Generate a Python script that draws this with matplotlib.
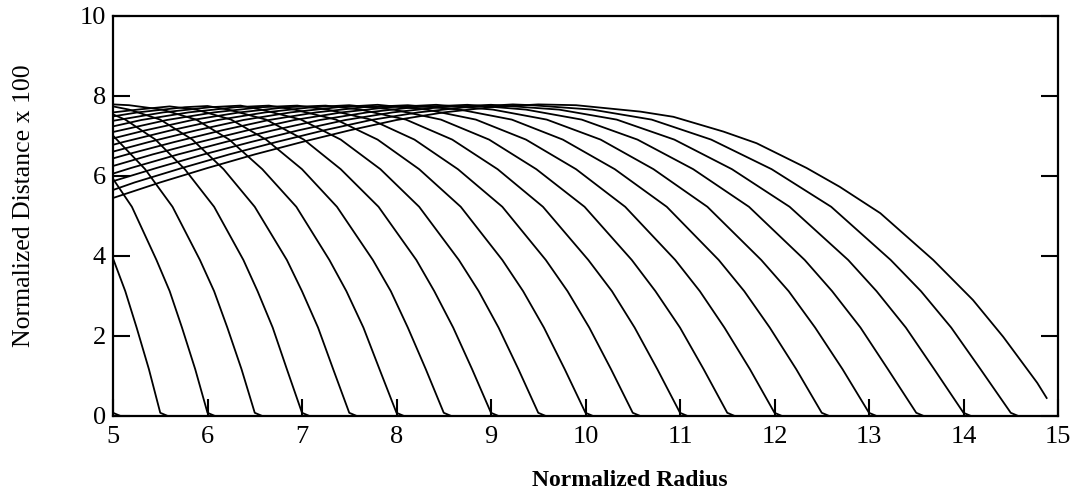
import matplotlib
matplotlib.use("Agg")
import matplotlib.pyplot as plt

# ---- data: (x, y) points of each curve ----
x00 = [5.0, 5.08, 14.88]
y00 = [0.08, 0.0, 0.0]
x01 = [5.0, 5.13, 5.25, 5.38, 5.5, 5.58, 14.88]
y01 = [3.94, 3.12, 2.21, 1.17, 0.08, 0.0, 0.0]
x02 = [5.0, 5.2, 5.46, 5.6, 5.73, 5.87, 6.0, 6.08, 14.88]
y02 = [5.93, 5.23, 3.9, 3.12, 2.21, 1.17, 0.08, 0.0, 0.0]
x03 = [5.0, 5.34, 5.63, 5.92, 6.07, 6.21, 6.36, 6.5, 6.58, 14.88]
y03 = [7.01, 6.17, 5.23, 3.9, 3.12, 2.21, 1.17, 0.08, 0.0, 0.0]
x04 = [5.0, 5.13, 5.45, 5.76, 6.07, 6.38, 6.53, 6.69, 6.84, 7.0, 7.08, 14.88]
y04 = [7.54, 7.41, 6.91, 6.17, 5.23, 3.9, 3.12, 2.21, 1.17, 0.08, 0.0, 0.0]
x05 = [5.0, 5.17, 5.5, 5.84, 6.17, 6.5, 6.84, 7.0, 7.17, 7.33, 7.5, 7.58, 14.88]
y05 = [7.74, 7.66, 7.41, 6.91, 6.17, 5.23, 3.9, 3.12, 2.21, 1.17, 0.08, 0.0, 0.0]
x06 = [5.0, 5.17, 5.52, 5.88, 6.23, 6.58, 6.94, 7.29, 7.47, 7.65, 7.82, 8.0, 8.08, 14.88]
y06 = [7.79, 7.77, 7.66, 7.41, 6.91, 6.17, 5.23, 3.9, 3.12, 2.21, 1.17, 0.08, 0.0, 0.0]
x07 = [5.0, 5.3, 5.6, 5.88, 6.25, 6.62, 7.0, 7.37, 7.75, 7.94, 8.12, 8.31, 8.5, 8.58, 14.88]
y07 = [7.59, 7.67, 7.74, 7.66, 7.41, 6.91, 6.17, 5.23, 3.9, 3.12, 2.21, 1.17, 0.08, 0.0, 0.0]
x08 = [5.0, 5.26, 5.76, 6.0, 6.22, 6.62, 7.02, 7.41, 7.81, 8.21, 8.4, 8.6, 8.8, 9.0, 9.08, 14.88]
y08 = [7.49, 7.59, 7.72, 7.75, 7.66, 7.41, 6.91, 6.17, 5.23, 3.9, 3.12, 2.21, 1.17, 0.08, 0.0, 0.0]
x09 = [5.0, 5.53, 6.03, 6.35, 6.57, 6.99, 7.41, 7.83, 8.24, 8.66, 8.87, 9.08, 9.29, 9.5, 9.58, 14.88]
y09 = [7.38, 7.59, 7.72, 7.76, 7.66, 7.41, 6.91, 6.17, 5.23, 3.9, 3.12, 2.21, 1.17, 0.08, 0.0, 0.0]
x10 = [5.0, 5.3, 5.8, 6.3, 6.65, 6.92, 7.36, 7.8, 8.24, 8.68, 9.12, 9.34, 9.56, 9.78, 10.0, 10.08, 14.88]
y10 = [7.24, 7.4, 7.59, 7.72, 7.76, 7.66, 7.41, 6.91, 6.17, 5.23, 3.9, 3.12, 2.21, 1.17, 0.08, 0.0, 0.0]
x11 = [5.0, 5.57, 6.07, 6.57, 6.95, 7.27, 7.73, 8.19, 8.65, 9.12, 9.58, 9.81, 10.04, 10.27, 10.5, 10.58, 14.88]
y11 = [7.1, 7.4, 7.59, 7.72, 7.76, 7.66, 7.41, 6.91, 6.17, 5.23, 3.9, 3.12, 2.21, 1.17, 0.08, 0.0, 0.0]
x12 = [5.0, 5.34, 5.84, 6.34, 6.84, 7.25, 7.62, 8.1, 8.59, 9.07, 9.55, 10.03, 10.28, 10.52, 10.76, 11.0, 11.08, 14.88]
y12 = [6.94, 7.14, 7.4, 7.59, 7.72, 7.76, 7.66, 7.41, 6.91, 6.17, 5.23, 3.9, 3.12, 2.21, 1.17, 0.08, 0.0, 0.0]
x13 = [5.0, 5.11, 5.61, 6.11, 6.61, 7.11, 7.5, 7.97, 8.47, 8.98, 9.48, 9.99, 10.49, 10.74, 11.0, 11.25, 11.5, 11.58, 14.88]
y13 = [6.78, 6.85, 7.14, 7.4, 7.59, 7.72, 7.77, 7.66, 7.41, 6.91, 6.17, 5.23, 3.9, 3.12, 2.21, 1.17, 0.08, 0.0, 0.0]
x14 = [5.0, 5.38, 5.88, 6.38, 6.88, 7.38, 7.8, 8.32, 8.84, 9.37, 9.9, 10.42, 10.95, 11.21, 11.47, 11.74, 12.0, 12.08, 14.88]
y14 = [6.61, 6.85, 7.14, 7.4, 7.59, 7.72, 7.78, 7.66, 7.41, 6.91, 6.17, 5.23, 3.9, 3.12, 2.21, 1.17, 0.08, 0.0, 0.0]
x15 = [5.0, 5.15, 5.65, 6.15, 6.65, 7.15, 7.65, 8.12, 8.67, 9.22, 9.76, 10.31, 10.86, 11.41, 11.68, 11.95, 12.23, 12.5, 12.58, 14.88]
y15 = [6.44, 6.54, 6.85, 7.14, 7.4, 7.59, 7.72, 7.77, 7.66, 7.41, 6.91, 6.17, 5.23, 3.9, 3.12, 2.21, 1.17, 0.08, 0.0, 0.0]
x16 = [5.0, 5.42, 5.92, 6.42, 6.92, 7.42, 7.92, 8.42, 9.02, 9.59, 10.16, 10.72, 11.29, 11.86, 12.15, 12.43, 12.72, 13.0, 13.08, 14.88]
y16 = [6.25, 6.54, 6.85, 7.14, 7.4, 7.59, 7.72, 7.78, 7.66, 7.41, 6.91, 6.17, 5.23, 3.9, 3.12, 2.21, 1.17, 0.08, 0.0, 0.0]
x17 = [5.0, 5.19, 5.69, 6.19, 6.69, 7.19, 7.69, 8.19, 8.75, 9.37, 9.96, 10.55, 11.14, 11.73, 12.32, 12.61, 12.91, 13.2, 13.5, 13.58, 14.88]
y17 = [6.06, 6.2, 6.54, 6.85, 7.14, 7.4, 7.59, 7.72, 7.78, 7.66, 7.41, 6.91, 6.17, 5.23, 3.9, 3.12, 2.21, 1.17, 0.08, 0.0, 0.0]
x18 = [5.0, 5.46, 5.96, 6.46, 6.96, 7.46, 7.96, 8.46, 9.0, 9.72, 10.33, 10.94, 11.55, 12.16, 12.78, 13.08, 13.39, 13.69, 14.0, 14.08, 14.88]
y18 = [5.87, 6.2, 6.54, 6.85, 7.14, 7.4, 7.59, 7.72, 7.78, 7.66, 7.41, 6.91, 6.17, 5.23, 3.9, 3.12, 2.21, 1.17, 0.08, 0.0, 0.0]
x19 = [5.0, 5.23, 5.73, 6.23, 6.73, 7.23, 7.73, 8.23, 8.73, 9.23, 9.43, 10.07, 10.7, 11.33, 11.97, 12.6, 13.23, 13.55, 13.87, 14.18, 14.5, 14.58, 14.88]
y19 = [5.65, 5.84, 6.2, 6.54, 6.85, 7.14, 7.4, 7.59, 7.72, 7.79, 7.77, 7.66, 7.41, 6.91, 6.17, 5.23, 3.9, 3.12, 2.21, 1.17, 0.08, 0.0, 0.0]
x20 = [5.0, 5.5, 6.0, 6.5, 7.0, 7.5, 8.0, 8.5, 9.0, 9.5, 9.9, 10.58, 10.93, 11.46, 11.81, 12.34, 12.69, 13.12, 13.68, 14.1, 14.42, 14.78, 14.88]
y20 = [5.45, 5.84, 6.2, 6.54, 6.85, 7.14, 7.4, 7.59, 7.72, 7.79, 7.77, 7.61, 7.48, 7.11, 6.82, 6.2, 5.73, 5.07, 3.9, 2.9, 1.98, 0.83, 0.45]

x_ticks = [5, 6, 7, 8, 9, 10, 11, 12, 13, 14, 15]
y_ticks = [0, 2, 4, 6, 8, 10]
x_label = "Normalized Radius"
y_label = "Normalized Distance x 100"

curves = [(x00, y00), (x01, y01), (x02, y02), (x03, y03), (x04, y04),
          (x05, y05), (x06, y06), (x07, y07), (x08, y08), (x09, y09),
          (x10, y10), (x11, y11), (x12, y12), (x13, y13), (x14, y14),
          (x15, y15), (x16, y16), (x17, y17), (x18, y18), (x19, y19),
          (x20, y20)]

plt.rcParams['font.family'] = ['Liberation Serif', 'DejaVu Serif']

fig = plt.figure(figsize=(10.86, 5.01), dpi=100)
ax = fig.add_axes([113 / 1086, 85 / 501, 945 / 1086, 400 / 501])

for xs, ys in curves:
    ax.plot(xs, ys, color='black', lw=1.3, solid_joinstyle='round')

ax.set_xlim(5, 15)
ax.set_ylim(0, 10)
ax.set_xticks(x_ticks)
ax.set_yticks(y_ticks)
ax.set_xticklabels([str(t) for t in x_ticks])
ax.set_yticklabels([str(t) for t in y_ticks])
ax.tick_params(direction='in', length=12, width=1.5, top=False, right=True,
               labelsize=19, colors='black')
ax.tick_params(axis='x', pad=7)
ax.tick_params(axis='y', pad=5)
for sp in ax.spines.values():
    sp.set_linewidth(1.6)

ax.set_xlabel(x_label, fontsize=17, fontweight='bold')
ax.xaxis.set_label_coords(0.547, -0.135)
ax.set_ylabel(y_label, fontsize=18.5)
ax.yaxis.set_label_coords(-0.083, 0.527)

fig.savefig("out.png", dpi=100)
